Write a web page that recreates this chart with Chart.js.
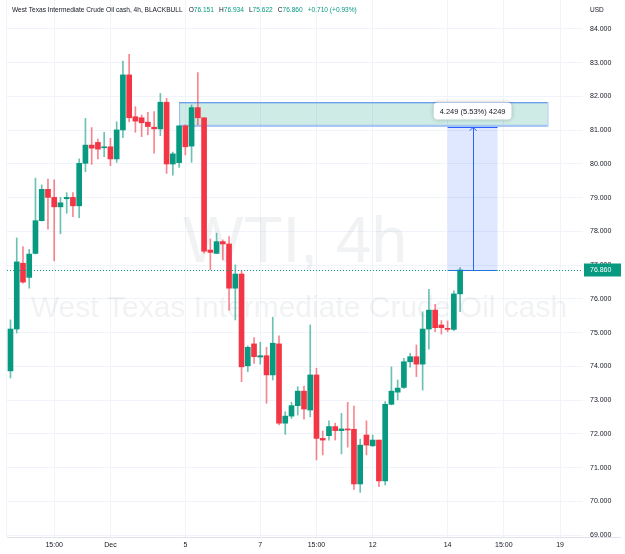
<!DOCTYPE html>
<html>
<head>
<meta charset="utf-8">
<title>WTI 4h</title>
<script src="https://cdn.jsdelivr.net/npm/chart.js@4.4.1/dist/chart.umd.min.js"></script>
<style>
  html, body { margin: 0; padding: 0; background: #fff; }
  #wrap { width: 625px; height: 554px; position: relative; }
</style>
</head>
<body>
<div id="wrap"><canvas id="chart" width="625" height="554"></canvas></div>
<script>
// 4h candles (bar index 0 = first candle on the left)
const opens = [73.87, 75.11, 77.06, 76.64, 77.35, 78.32, 79.25, 79.01, 78.73, 78.97,
  79.01, 78.76, 80.02, 80.56, 80.64, 80.48, 80.51, 80.15, 81.01, 82.64,
  81.40, 81.37, 81.24, 81.09, 81.04, 81.83, 80.00, 80.04, 81.13, 80.53,
  81.67, 81.37, 77.45, 77.35, 77.70, 77.63, 76.32, 76.74, 74.02, 74.67,
  74.28, 74.32, 73.75, 74.67, 72.32, 72.53, 72.84, 73.27, 72.71, 73.75,
  71.87, 71.95, 72.22, 72.10, 72.15, 72.14, 70.52, 71.97, 71.65, 71.82,
  70.61, 72.88, 73.24, 73.38, 74.14, 74.29, 74.07, 75.11, 75.67, 75.23,
  75.13, 75.10, 76.151];
const highs = [75.38, 77.81, 77.55, 77.47, 79.58, 79.38, 79.55, 79.53, 79.01, 79.15,
  79.15, 80.15, 81.35, 81.08, 80.74, 80.94, 80.76, 81.25, 83.05, 83.25,
  81.70, 81.45, 81.53, 81.55, 82.09, 81.95, 80.35, 81.13, 81.16, 81.75,
  82.71, 81.37, 77.78, 77.95, 77.75, 77.85, 77.01, 76.84, 74.61, 74.86,
  74.72, 74.57, 75.46, 74.91, 72.66, 72.94, 73.40, 73.42, 75.23, 73.95,
  72.09, 72.39, 72.32, 72.61, 72.94, 72.83, 71.85, 72.39, 71.97, 71.82,
  72.96, 73.99, 73.60, 74.24, 74.39, 74.64, 75.62, 76.29, 75.84, 75.36,
  75.35, 76.24, 76.934];
const lows = [73.66, 74.99, 76.47, 76.32, 77.33, 78.31, 78.07, 77.13, 77.93, 78.54,
  78.44, 78.41, 79.77, 79.99, 80.15, 80.22, 79.95, 80.05, 80.78, 81.25,
  80.94, 80.81, 80.86, 80.32, 80.84, 79.72, 79.67, 79.90, 80.27, 80.05,
  81.16, 77.36, 76.86, 77.35, 77.16, 75.67, 75.38, 73.55, 73.85, 74.09,
  74.07, 72.91, 73.60, 72.27, 71.99, 72.46, 72.56, 72.44, 72.51, 71.23,
  71.38, 71.82, 71.82, 71.41, 71.61, 70.36, 70.27, 71.38, 71.63, 70.44,
  70.49, 72.86, 73.01, 73.35, 73.98, 73.70, 73.30, 74.51, 75.03, 74.96,
  75.03, 75.06, 75.622];
const closes = [75.11, 77.10, 76.50, 77.33, 78.32, 79.25, 79.01, 78.73, 78.85, 79.01,
  78.76, 80.02, 80.56, 80.47, 80.44, 80.51, 80.15, 81.01, 82.64, 81.37,
  81.27, 81.22, 81.11, 81.04, 81.83, 80.00, 80.30, 81.13, 80.51, 81.67,
  81.37, 77.42, 77.38, 77.70, 77.63, 76.32, 76.74, 73.99, 74.57, 74.29,
  74.32, 73.75, 74.69, 72.32, 72.53, 72.84, 73.27, 72.74, 73.75, 71.87,
  71.82, 72.22, 72.10, 72.15, 72.12, 70.52, 71.67, 71.67, 71.82, 70.61,
  72.88, 73.27, 73.36, 74.14, 74.29, 74.07, 75.11, 75.67, 75.15, 75.15,
  75.10, 76.15, 76.860];

// time axis labels sit on these bar slots
const tickBars = [7, 16, 28, 40, 49, 58, 70, 79, 88];
const tickLabels = ['15:00', 'Dec', '5', '7', '15:00', '12', '14', '15:00', '19'];
const priceTicks = [69, 70, 71, 72, 73, 74, 75, 76, 77, 78, 79, 80, 81, 82, 83, 84];

const lastPrice = 76.860;
// drawings on the chart (bar slots / prices)
const zoneBars = [27, 86];
const zonePrices = [81.13, 81.83];
const measureBars = [70, 78];
const measurePrices = [76.860, 81.109];

const UP = '#089981';
const DOWN = '#f23645';
const FONT = '"Liberation Sans", Arial, sans-serif';
const TEXT = '#131722';
const GRID = '#f0f3fa';

const isUp = closes.map((c, i) => c >= opens[i]);
const bodies = opens.map((o, i) => ({ x: i, y: [o, closes[i]] }));
const wicks = lows.map((l, i) => ({ x: i, y: [l, highs[i]] }));

// watermark, zone rectangle (under candles)
const underlay = {
    id: 'underlay',
    beforeDatasetsDraw(chart) {
        const { ctx, chartArea: a, scales: { x, y } } = chart;
        ctx.save();
        ctx.fillStyle = 'rgba(120,123,134,0.1)';
        ctx.textAlign = 'center';
        ctx.textBaseline = 'alphabetic';
        const cx = (a.left + a.right) / 2;
        ctx.font = '64px ' + FONT;
        ctx.fillText('WTI, 4h', cx, 262);
        ctx.font = '30px ' + FONT;
        ctx.fillText('West Texas Intermediate Crude Oil cash', cx + 4, 317);

        const zl = x.getPixelForValue(zoneBars[0]);
        const zr = x.getPixelForValue(zoneBars[1]);
        const zt = y.getPixelForValue(zonePrices[1]);
        const zb = y.getPixelForValue(zonePrices[0]);
        ctx.fillStyle = 'rgba(8,153,129,0.2)';
        ctx.fillRect(zl, zt, zr - zl, zb - zt);
        ctx.strokeStyle = 'rgba(41,98,255,0.35)';
        ctx.lineWidth = 1;
        ctx.strokeRect(zl + 0.5, zt + 0.5, zr - zl, zb - zt);
        ctx.strokeStyle = '#5b95ea';
        ctx.beginPath(); ctx.moveTo(zl, zt + 0.5); ctx.lineTo(zr, zt + 0.5); ctx.stroke();
        ctx.strokeStyle = '#a4c4f2';
        ctx.lineWidth = 2;
        ctx.beginPath(); ctx.moveTo(zl, zb); ctx.lineTo(zr, zb); ctx.stroke();

        // left border of the pane
        ctx.strokeStyle = GRID;
        ctx.lineWidth = 1;
        ctx.beginPath(); ctx.moveTo(a.left - 0.5, a.top); ctx.lineTo(a.left - 0.5, a.bottom); ctx.stroke();
        ctx.restore();
    }
};

// measure tool, last price line, header
const overlay = {
    id: 'overlay',
    afterDraw(chart) {
        const { ctx, chartArea: a, scales: { x, y } } = chart;
        ctx.save();

        // measure
        const ml = x.getPixelForValue(measureBars[0]);
        const mr = x.getPixelForValue(measureBars[1]);
        const mt = y.getPixelForValue(measurePrices[1]);
        const mb = y.getPixelForValue(measurePrices[0]);
        const mc = (ml + mr) / 2;
        ctx.fillStyle = 'rgba(41,98,255,0.15)';
        ctx.fillRect(ml, mt, mr - ml, mb - mt);
        ctx.strokeStyle = '#2962ff';
        ctx.lineWidth = 1;
        ctx.beginPath();
        ctx.moveTo(ml, Math.round(mt) + 0.5); ctx.lineTo(mr, Math.round(mt) + 0.5);
        ctx.moveTo(ml, Math.round(mb) + 0.5); ctx.lineTo(mr, Math.round(mb) + 0.5);
        ctx.moveTo(Math.round(mc) + 0.5, mb); ctx.lineTo(Math.round(mc) + 0.5, mt + 1);
        ctx.moveTo(mc - 3, mt + 4); ctx.lineTo(mc + 0.5, mt + 1); ctx.lineTo(mc + 4, mt + 4);
        ctx.stroke();

        const diff = measurePrices[1] - measurePrices[0];
        const pct = diff / measurePrices[0] * 100;
        const mtxt = diff.toFixed(3) + ' (' + pct.toFixed(2) + '%) ' + Math.round(diff * 1000);
        ctx.font = '7.5px ' + FONT;
        const tw = ctx.measureText(mtxt).width;
        const bw = tw + 12, bh = 17;
        const bx = mc - bw / 2, by = mt - 7 - bh;
        ctx.shadowColor = 'rgba(0,0,0,0.25)';
        ctx.shadowBlur = 4;
        ctx.fillStyle = '#fff';
        ctx.beginPath();
        ctx.roundRect(bx, by, bw, bh, 4);
        ctx.fill();
        ctx.shadowBlur = 0;
        ctx.shadowColor = 'transparent';
        ctx.fillStyle = TEXT;
        ctx.textAlign = 'center';
        ctx.textBaseline = 'middle';
        ctx.fillText(mtxt, mc, by + bh / 2 + 0.5);

        // last price
        const py = Math.round(y.getPixelForValue(lastPrice)) + 0.5;
        ctx.strokeStyle = UP;
        ctx.setLineDash([1, 2]);
        ctx.beginPath(); ctx.moveTo(a.left, py); ctx.lineTo(a.right, py); ctx.stroke();
        ctx.setLineDash([]);
        ctx.fillStyle = UP;
        ctx.fillRect(a.right + 1, py - 7, 37, 13);
        ctx.fillStyle = '#fff';
        ctx.font = '7px ' + FONT;
        ctx.textAlign = 'left';
        ctx.fillText(lastPrice.toFixed(3), a.right + 7, py);

        // header
        ctx.textBaseline = 'middle';
        ctx.textAlign = 'left';
        ctx.font = '6.6px ' + FONT;
        const n = closes.length - 1;
        const chg = closes[n] - closes[n - 1];
        const parts = [
            ['West Texas Intermediate Crude Oil cash, 4h, BLACKBULL', TEXT, 6],
            ['O', TEXT, 0], [opens[n].toFixed(3), UP, 5],
            ['H', TEXT, 0], [highs[n].toFixed(3), UP, 5],
            ['L', TEXT, 0], [lows[n].toFixed(3), UP, 5],
            ['C', TEXT, 0], [closes[n].toFixed(3), UP, 5],
            ['+' + chg.toFixed(3) + ' (+' + (chg / closes[n - 1] * 100).toFixed(2) + '%)', UP, 0]
        ];
        let hx = 12;
        parts.forEach(([t, c, gap]) => {
            ctx.fillStyle = c;
            ctx.fillText(t, hx, 10.5);
            hx += ctx.measureText(t).width + gap;
        });
        ctx.fillStyle = TEXT;
        ctx.font = '6.5px ' + FONT;
        ctx.fillText('USD', a.right + 7, 10.5);

        // time axis line runs under the price scale too
        ctx.strokeStyle = '#e0e3eb';
        ctx.beginPath(); ctx.moveTo(a.left, a.bottom + 0.5); ctx.lineTo(chart.width - 4, a.bottom + 0.5); ctx.stroke();
        ctx.restore();
    }
};

// no label overflow padding: the pane runs to the canvas edges like the original
const noEdgePad = (s) => {
    s.paddingTop = 0;
    s.paddingBottom = 0;
    s.paddingLeft = 0;
    s.paddingRight = 0;
};

new Chart(document.getElementById('chart'), {
    type: 'bar',
    data: {
        datasets: [
            {
                label: 'body',
                data: bodies,
                backgroundColor: isUp.map(u => (u ? UP : DOWN)),
                barThickness: 5,
                minBarLength: 1,
                grouped: false,
                order: 0
            },
            {
                label: 'wick',
                data: wicks,
                backgroundColor: isUp.map(u => (u ? 'rgba(8,153,129,0.6)' : 'rgba(242,54,69,0.6)')),
                barThickness: 1,
                grouped: false,
                order: 1
            }
        ]
    },
    options: {
        responsive: false,
        animation: false,
        layout: { padding: { left: 7, top: 0, right: 0, bottom: 0 } },
        plugins: { legend: { display: false }, tooltip: { enabled: false } },
        scales: {
            x: {
                type: 'linear',
                offset: false,
                min: -0.56,
                max: 91.68,
                afterBuildTicks: (s) => { s.ticks = tickBars.map(v => ({ value: v })); },
                afterFit: (s) => { s.height = 17; noEdgePad(s); },
                ticks: {
                    autoSkip: false,
                    maxRotation: 0,
                    padding: 4,
                    color: TEXT,
                    font: { family: FONT, size: 7 },
                    callback: (v) => tickLabels[tickBars.indexOf(v)]
                },
                grid: { color: GRID, drawTicks: false, offset: false },
                border: { display: false }
            },
            y: {
                position: 'right',
                min: 68.948,
                max: 84.859,
                afterBuildTicks: (s) => { s.ticks = priceTicks.map(v => ({ value: v })); },
                afterFit: (s) => { s.width = 42; noEdgePad(s); },
                ticks: {
                    padding: 7,
                    color: TEXT,
                    font: { family: FONT, size: 7 },
                    callback: (v) => v.toFixed(3)
                },
                grid: { color: GRID, drawTicks: false },
                border: { display: false }
            }
        }
    },
    plugins: [underlay, overlay]
});
</script>
</body>
</html>
